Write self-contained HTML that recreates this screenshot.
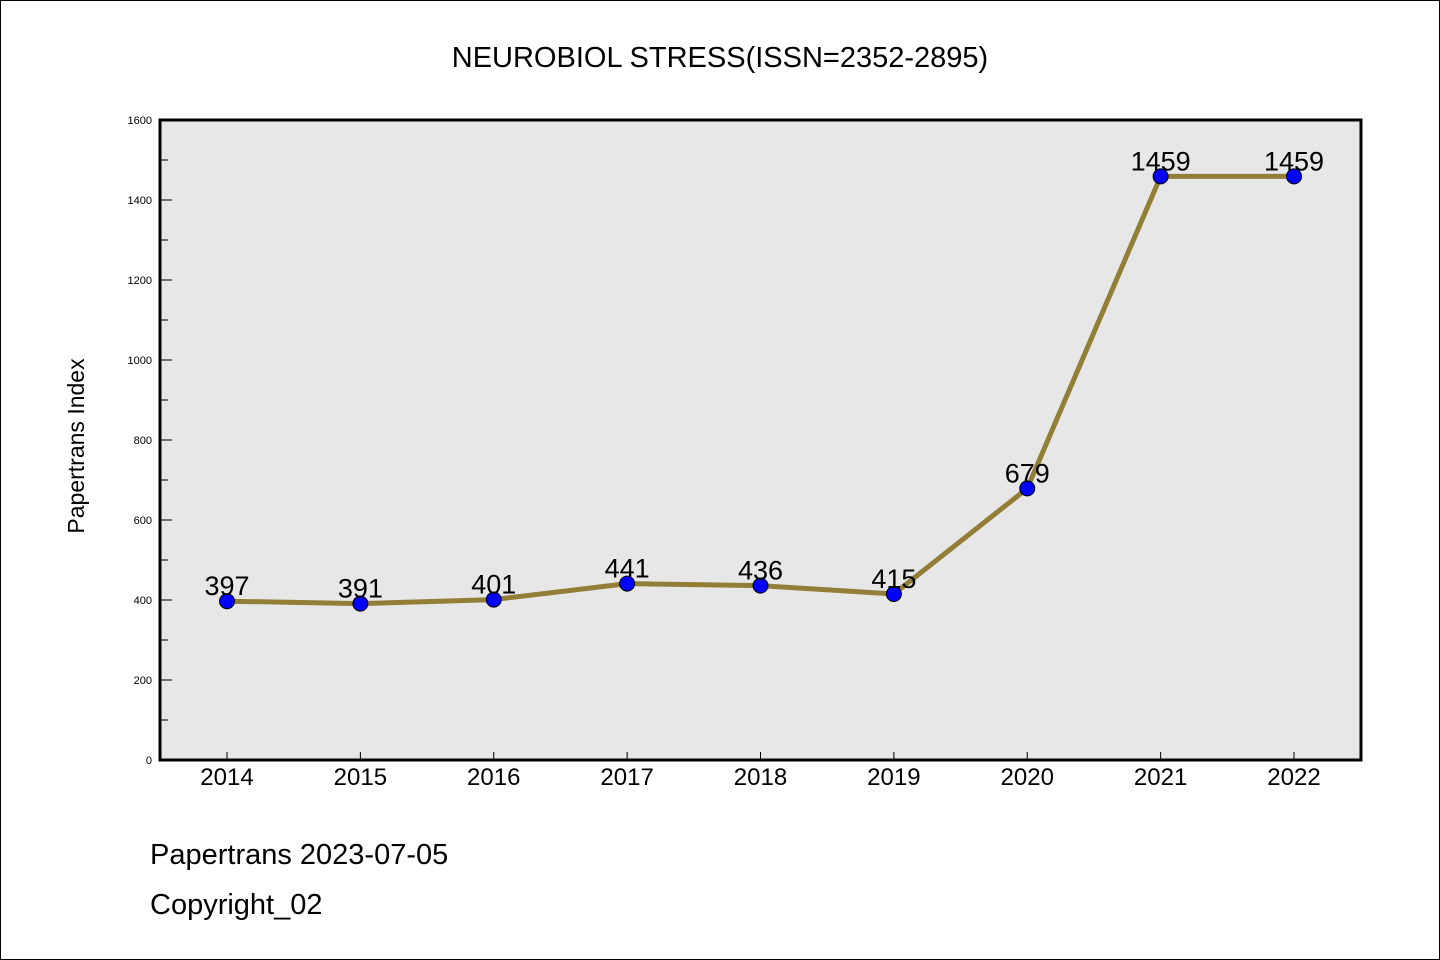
<!DOCTYPE html>
<html><head><meta charset="utf-8"><style>
body{margin:0;background:#fff;}
svg{display:block;font-family:"WenQuanYi Zen Hei","Liberation Sans",sans-serif;}
</style></head><body>
<svg id="chart" width="1440" height="960">
<rect x="0.5" y="0.5" width="1439" height="959" fill="#fff" stroke="#000"/>
<text x="720" y="67" text-anchor="middle" font-size="29">NEUROBIOL STRESS(ISSN=2352-2895)</text>
<rect x="160" y="120" width="1201" height="640" fill="#e7e7e7"/>
<g id="yaxis"></g>
<g id="xaxis"></g>
<g id="series"></g>
<rect x="160" y="120" width="1201" height="640" fill="none" stroke="#000" stroke-width="3"/>
<text transform="translate(84,446) rotate(-90)" text-anchor="middle" font-size="23">Papertrans Index</text>
<text x="150" y="864" font-size="29">Papertrans 2023-07-05</text>
<text x="150" y="914" font-size="29">Copyright_02</text>
</svg>
<script>
const categories=["2014","2015","2016","2017","2018","2019","2020","2021","2022"];
const values=[397,391,401,441,436,415,679,1459,1459];
const yTicks=[0,200,400,600,800,1000,1200,1400,1600];
const NS="http://www.w3.org/2000/svg";
const x=i=>227+i*(1294-227)/8;
const y=v=>760-v*0.4;
function mk(tag,attrs,parent){const e=document.createElementNS(NS,tag);for(const k in attrs)e.setAttribute(k,attrs[k]);parent.appendChild(e);return e;}
const ya=document.getElementById('yaxis'),xa=document.getElementById('xaxis'),se=document.getElementById('series');
for(let v=0;v<=1600;v+=100){const t=mk('line',{x1:160,x2:v%200===0?172:168,y1:y(v),y2:y(v),stroke:'#000','stroke-width':1},ya);

}
yTicks.forEach(v=>{const t=mk('text',{x:152,y:y(v)+4,'text-anchor':'end','font-size':11},ya);t.textContent=v;

});
categories.forEach((c,i)=>{const l=mk('line',{x1:x(i),x2:x(i),y1:752,y2:760,stroke:'#000'},xa);


const t=mk('text',{x:x(i),y:785,'text-anchor':'middle','font-size':24},xa);t.textContent=c;

});
const pl=mk('polyline',{points:values.map((v,i)=>x(i)+','+y(v)).join(' '),fill:'none',stroke:'#927e36','stroke-width':5},se);


values.forEach((v,i)=>{const c=mk('circle',{cx:x(i),cy:y(v),r:7.5,fill:'#0000ff',stroke:'#000','stroke-width':1},se);


const t=mk('text',{x:x(i),y:y(v)-6,'text-anchor':'middle','font-size':27},se);t.textContent=v;

});
</script>
</body></html>
